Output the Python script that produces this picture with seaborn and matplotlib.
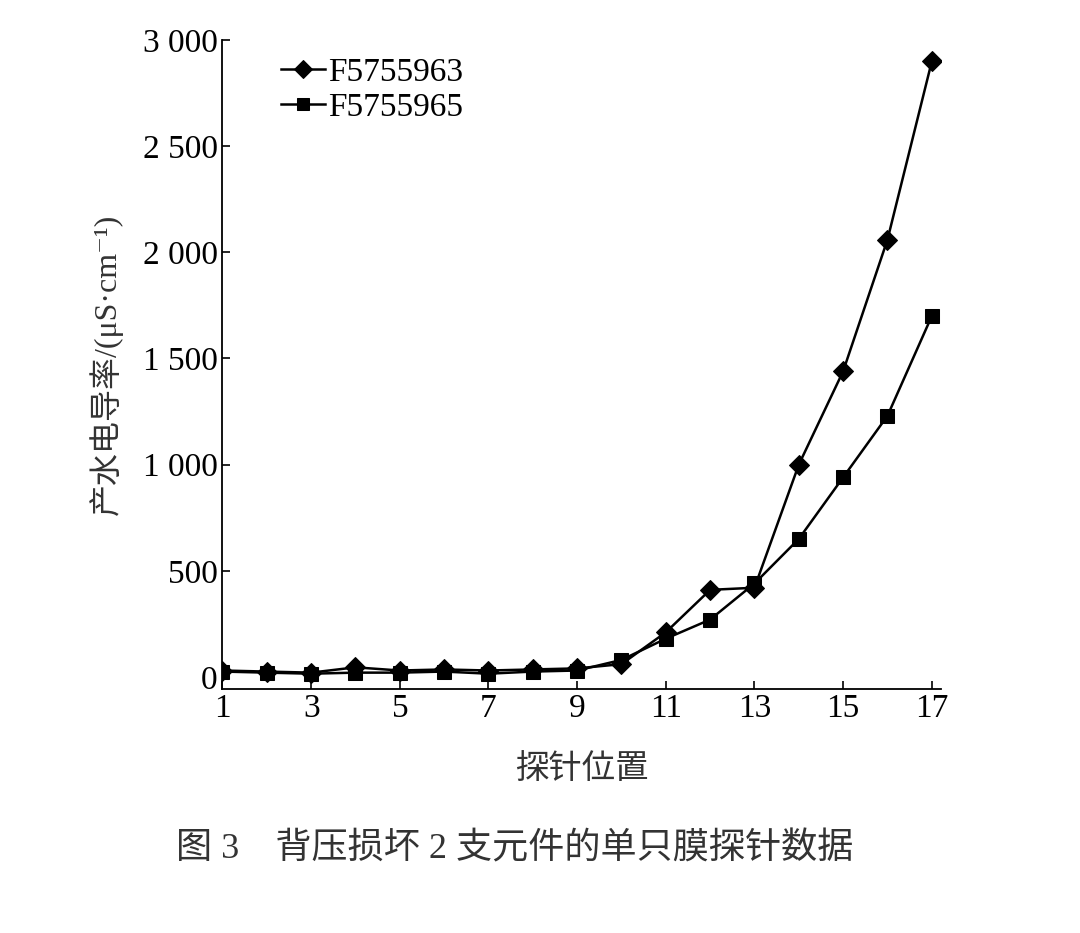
import matplotlib
matplotlib.use("Agg")
import matplotlib.pyplot as plt
from matplotlib import font_manager as fm
import seaborn as sns
import pandas as pd
from matplotlib.ticker import FuncFormatter

# ── Data ───────────────────────────────────────────────────────────────────────
positions = list(range(1, 18))
f5755963 = [30, 25, 20, 45, 30, 35, 30, 35, 40, 60, 210, 410, 420, 1000, 1440, 2060, 2900]
f5755965 = [25, 20, 15, 20, 20, 25, 15, 25, 30, 80, 180, 270, 440, 650, 940, 1230, 1700]
series_names = ["F5755963", "F5755965"]
x_ticks = [1, 3, 5, 7, 9, 11, 13, 15, 17]
y_ticks = [0, 500, 1000, 1500, 2000, 2500, 3000]

df = pd.DataFrame({
    "pos": positions * 2,
    "val": f5755963 + f5755965,
    "series": [series_names[0]] * 17 + [series_names[1]] * 17,
})

# ── Find a CJK font that matplotlib can actually use ──────────────────────────
for path in fm.findSystemFonts():
    if "cjk" in path.lower():
        try:
            fm.fontManager.addfont(path)
        except Exception:
            pass
cjk_names = sorted({e.name for e in fm.fontManager.ttflist if "CJK" in e.name})
cjk = next((n for n in cjk_names if "SC" in n), cjk_names[0] if cjk_names else "DejaVu Sans")
serif = "Liberation Serif"
mixed = [serif, cjk, "DejaVu Serif"]
plt.rcParams["font.family"] = serif

fig = plt.figure(figsize=(10.8, 9.33), dpi=100)
ax = fig.add_axes([0.206, 0.262, 0.665, 0.695])

sns.lineplot(data=df, x="pos", y="val", hue="series", style="series",
             markers={"F5755963": "D", "F5755965": "s"}, dashes=False,
             palette=["black", "black"], markersize=10, linewidth=1.8,
             markeredgecolor="black", ax=ax)

ax.set_xlim(1, 17.2)
ax.set_ylim(-55, 3000)
ax.set_xticks(x_ticks)
ax.set_yticks(y_ticks)
ax.yaxis.set_major_formatter(FuncFormatter(lambda v, p: f"{int(v):,}".replace(",", " ")))
ax.tick_params(direction="in", length=6, width=1.2, labelsize=24)
for s in ["top", "right"]:
    ax.spines[s].set_visible(False)
for s in ["left", "bottom"]:
    ax.spines[s].set_linewidth(1.3)

col = "#333333"
ax.set_xlabel("探针位置", fontsize=24, family=mixed, color=col, labelpad=22)
ax.set_ylabel("产水电导率/(μS·cm⁻¹)", fontsize=23, family=mixed, color=col, labelpad=14)

leg = ax.legend(loc="upper left", bbox_to_anchor=(0.04, 1.02), frameon=False,
                prop={"size": 24}, handlelength=1.3,
                handletextpad=0.1, labelspacing=0.15)
for h in leg.legend_handles:
    h.set_markersize(9)

fig.text(0.477, 0.09, "图 3　背压损坏 2 支元件的单只膜探针数据", ha="center", va="center",
         fontsize=26, family=mixed, color=col)

fig.savefig("out.png", dpi=100)
